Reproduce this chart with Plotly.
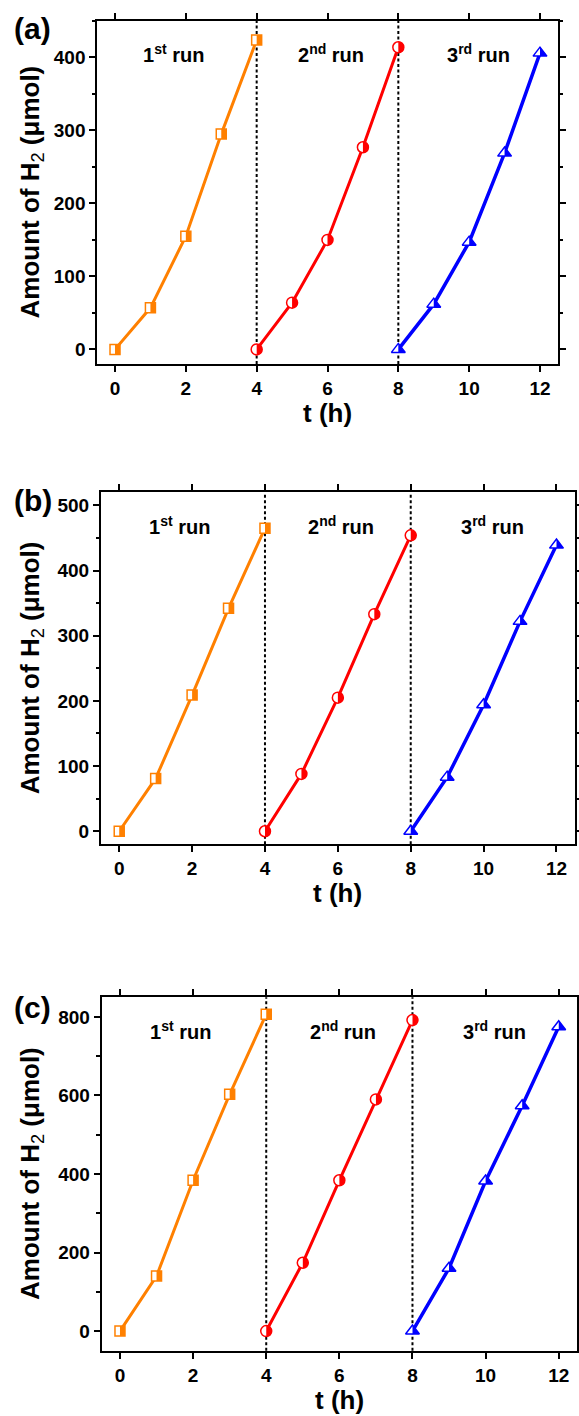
import math
import plotly.graph_objects as go

# ---------------- data ----------------
t_run1 = [0, 1, 2, 3, 4]
t_run2 = [4, 5, 6, 7, 8]
t_run3 = [8, 9, 10, 11, 12]

a_run1 = [0, 57, 155, 295, 424]
a_run2 = [0, 64, 150, 277, 414]
a_run3 = [0, 62, 147, 269, 406]

b_run1 = [0, 81, 209, 342, 465]
b_run2 = [0, 88, 205, 333, 454]
b_run3 = [0, 83, 194, 322, 439]

c_run1 = [0, 140, 384, 603, 807]
c_run2 = [0, 174, 384, 590, 792]
c_run3 = [0, 160, 382, 574, 775]

panel_labels = ["(a)", "(b)", "(c)"]
run_labels = ["1<sup>st</sup> run", "2<sup>nd</sup> run", "3<sup>rd</sup> run"]
run_label_x = [1.65, 6.1, 10.25]
run_boundaries = [4, 8]
y_title = "Amount of H<sub><span style='font-weight:normal'>2</span></sub> (μmol)"
x_title = "t (h)"
x_ticks = [0, 2, 4, 6, 8, 10, 12]
a_yticks = [0, 100, 200, 300, 400]
b_yticks = [0, 100, 200, 300, 400, 500]
c_yticks = [0, 200, 400, 600, 800]

# ---------------- style ----------------
FONT = "Liberation Sans, Arial, sans-serif"
ORANGE = "#FF8000"
RED = "#FF0000"
BLUE = "#0000FF"

W, H = 579, 1416

# panel geometry in pixels: (left, right, top, bottom)
panels_px = [(97.3, 557.7, 21, 364), (101, 574.7, 492.3, 844.3), (101.7, 577, 997.3, 1350.7)]
y_ranges = [[-20, 450], [-20, 520], [-50, 850]]
y_minor = [50, 50, 100]
x_range = [-0.5, 12.5]

datasets = [
    (a_run1, a_run2, a_run3, a_yticks),
    (b_run1, b_run2, b_run3, b_yticks),
    (c_run1, c_run2, c_run3, c_yticks),
]

series_style = [
    (t_run1, ORANGE, "square", 10, 3),
    (t_run2, RED, "circle", 11, 3),
    (t_run3, BLUE, "triangle-up", 12, 3.5),
]


def half_path(sym, size):
    r = size / 2.0
    if sym == "square":
        pts = [(0, -r), (r, -r), (r, r), (0, r)]
    elif sym == "circle":
        pts = [(r * math.cos(math.radians(a)), r * math.sin(math.radians(a)))
               for a in range(-90, 91, 10)]
    else:
        rt = r * 2 / math.sqrt(3)
        pts = [(0, r), (rt, -r / 2), (0, -r / 2)]
    return "M" + " L".join(f"{x:.2f},{y:.2f}" for x, y in pts) + " Z"


fig = go.Figure()
shapes = []
annotations = []
layout_axes = {}

for i, ((r1, r2, r3, yt), (l, r, tp, bt)) in enumerate(zip(datasets, panels_px)):
    idx = "" if i == 0 else str(i + 1)
    xa, ya = "x" + idx, "y" + idx
    xdom = [l / W, r / W]
    ydom = [(H - bt) / H, (H - tp) / H]

    tickfont = dict(family=FONT, size=19, color="black", weight="bold")
    layout_axes["xaxis" + idx] = dict(
        domain=xdom, anchor=ya, range=x_range, tickvals=x_ticks,
        showline=True, linewidth=2, linecolor="black", mirror="ticks",
        ticks="outside", ticklen=6, tickwidth=2, tickcolor="black",
        showgrid=False, zeroline=False, tickfont=tickfont, automargin=False,
    )
    layout_axes["yaxis" + idx] = dict(
        domain=ydom, anchor=xa, range=y_ranges[i], tickvals=yt,
        showline=True, linewidth=2, linecolor="black", mirror="ticks",
        ticks="outside", ticklen=6, tickwidth=2, tickcolor="black",
        minor=dict(dtick=y_minor[i], ticks="outside", ticklen=3.5,
                   tickwidth=1.5, tickcolor="black"),
        showgrid=False, zeroline=False, tickfont=tickfont, automargin=False,
    )

    for vals, (tt, col, sym, size, lw) in zip((r1, r2, r3), series_style):
        fig.add_trace(go.Scatter(
            x=tt, y=vals, xaxis=xa, yaxis=ya, mode="lines+markers",
            line=dict(color=col, width=lw),
            marker=dict(symbol=sym, size=size, color="white",
                        line=dict(color=col, width=1.5)),
            showlegend=False, hoverinfo="x+y",
        ))
        p = half_path("square" if sym == "square" else ("circle" if sym == "circle" else "tri"), size)
        for xv, yv in zip(tt, vals):
            shapes.append(dict(
                type="path", xref=xa, yref=ya, xsizemode="pixel", ysizemode="pixel",
                xanchor=xv, yanchor=yv, path=p, fillcolor=col,
                line=dict(width=0), layer="above",
            ))

    for xb in run_boundaries:
        shapes.append(dict(
            type="line", xref=xa, yref=ya + " domain", x0=xb, x1=xb, y0=0, y1=1,
            line=dict(color="black", width=2, dash="3px,2.5px"), layer="below",
        ))

    for txt, xv in zip(run_labels, run_label_x):
        annotations.append(dict(
            text=txt, xref=xa, yref=ya + " domain", x=xv, y=0.905,
            showarrow=False, xanchor="center", yanchor="middle",
            font=dict(family=FONT, size=20, color="black", weight="bold"),
        ))

    # panel label
    annotations.append(dict(
        text=panel_labels[i], xref="paper", yref="paper", x=12 / W,
        y=(H - [28.3, 500.7, 1007.5][i]) / H, showarrow=False,
        xanchor="left", yanchor="middle",
        font=dict(family=FONT, size=30, color="black", weight="bold"),
    ))
    # y axis title
    annotations.append(dict(
        text=y_title, xref="paper", yref="paper", x=31 / W,
        y=(H - (tp + bt) / 2) / H, showarrow=False, textangle=-90,
        xanchor="center", yanchor="middle",
        font=dict(family=FONT, size=26, color="black", weight="bold"),
    ))
    # x axis title
    annotations.append(dict(
        text=x_title, xref=xa + " domain", yref="paper", x=0.5,
        y=(H - (bt + 49)) / H, showarrow=False,
        xanchor="center", yanchor="middle",
        font=dict(family=FONT, size=26, color="black", weight="bold"),
    ))

fig.update_layout(
    width=W, height=H, margin=dict(l=0, r=0, t=0, b=0),
    paper_bgcolor="white", plot_bgcolor="white", showlegend=False,
    shapes=shapes, annotations=annotations, **layout_axes,
)

fig.write_html("out.html")
